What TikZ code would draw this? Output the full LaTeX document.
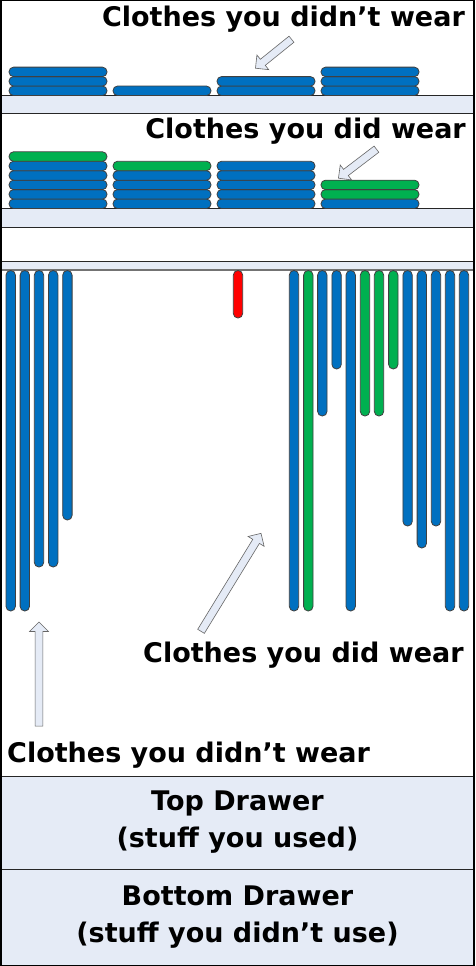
\documentclass[tikz,border=0pt]{standalone}
\usepackage{fontspec}
\setmainfont{DejaVu Sans}
\usetikzlibrary{calc, shapes.arrows}
\definecolor{clothblue}{HTML}{0070C0}
\definecolor{clothgreen}{HTML}{00B050}
\definecolor{clothred}{HTML}{FF0000}
\definecolor{boardfill}{HTML}{E5EBF6}
\definecolor{edgegray}{HTML}{404040}

\tikzset{
  board/.style={draw=black!85, fill=boardfill, line width=1pt},
  fold/.style={draw=edgegray, line width=0.8pt, rounded corners=4.5pt},
  hang/.style={draw=edgegray, line width=0.8pt, rounded corners=4.6pt},
  words/.style={font=\fontsize{27}{37}\selectfont\bfseries, inner sep=0pt},
  drawer/.style={board, words, align=center, minimum width=473pt},
  pointer/.style={single arrow, draw=black!60, fill=boardfill, line width=0.6pt,
                  inner sep=3.6pt, single arrow head extend=5.5pt,
                  single arrow head indent=0pt}
}

\begin{document}
\begin{tikzpicture}[x=1pt, y=-1pt]
  \useasboundingbox (0,0) rectangle (475,966);
  \fill[white] (0,0) rectangle (475,966);

  % shelves and rod
  \draw[board] (1,95.5) rectangle (474,113.5);
  \draw[board] (1,208.5) rectangle (474,227);
  \draw[board] (1,261) rectangle (474,270);
  \draw[black!55, line width=2pt] (1,270) -- (474,270);

  % folded clothes, bottom to top
  \foreach \base/\sx/\cols in {95.5/9/{blue,blue,blue}, 95.5/113/{blue},
      95.5/217/{blue,blue}, 95.5/321/{blue,blue,blue},
      208.5/9/{blue,blue,blue,blue,blue,green}, 208.5/113/{blue,blue,blue,blue,green},
      208.5/217/{blue,blue,blue,blue,blue}, 208.5/321/{blue,green,green}}{
    \foreach \c [count=\k] in \cols
      \draw[fold, fill=cloth\c] (\sx,\base-9.45*\k) rectangle ++(98,9.45);
  }

  % hanging clothes
  \foreach \x/\b/\c in {10.7/611/blue, 24.8/611/blue, 39/567/blue, 53.2/567/blue,
      67.4/520/blue, 238/318/red,
      294/611/blue, 308.3/611/green, 322.3/416/blue, 336.6/369/blue,
      350.7/611/blue, 365/416/green, 379/416/green, 393.3/369/green,
      407.6/526/blue, 421.8/548/blue, 436/526/blue, 450/611/blue, 464/611/blue}
    \draw[hang, fill=cloth\c] (\x-4.7,270.5) rectangle (\x+4.7,\b);

  % drawers
  \node[drawer, minimum height=93pt] (topDrawer) at (237.5,822.5)
    {Top Drawer\\(stuff you used)};
  \node[drawer, minimum height=96pt] (bottomDrawer) at (237.5,917)
    {Bottom Drawer\\(stuff you didn’t use)};

  % labels
  \node[words, anchor=base east] (didntShelf) at (465,27) {Clothes you didn’t wear};
  \node[words, anchor=base east] (didShelf) at (466,138) {Clothes you did wear};
  \node[words, anchor=base west] (didHang) at (143,662) {Clothes you did wear};
  \node[words, anchor=base west] (didntHang) at (7,762) {Clothes you didn’t wear};

  % pointer ends
  \coordinate (tailA) at (293,38);   \coordinate (tipA) at (257,67);
  \coordinate (tailB) at (378,148);  \coordinate (tipB) at (340,177);
  \coordinate (tailC) at (200,633);  \coordinate (tipC) at (260,535);
  \coordinate (tailD) at (39,728);   \coordinate (tipD) at (39,624);

  \foreach \from/\to in {tailA/tipA, tailB/tipB, tailC/tipC, tailD/tipD}
    \path let \p1=($(\to)-(\from)$), \n1={atan2(\y1,\x1)}, \n2={veclen(\x1,\y1)} in
      node[pointer, minimum height=\n2, rotate=\n1] (arrow\to) at ($(\from)!0.5!(\to)$) {};

  % frame
  \draw[black, line width=1.5pt] (1,0.75) rectangle (474,965.25);
\end{tikzpicture}
\end{document}
